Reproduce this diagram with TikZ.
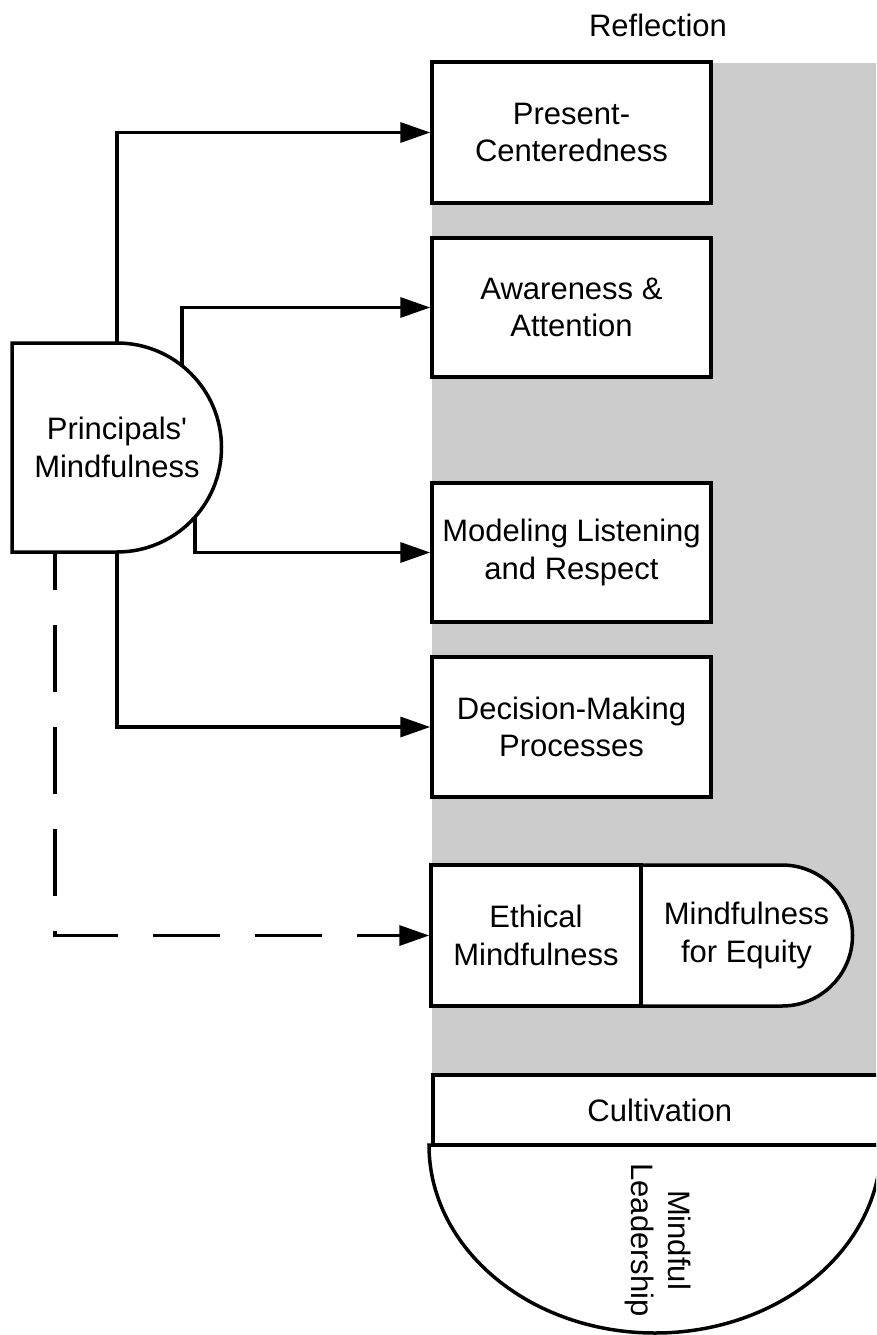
\documentclass[tikz,border=0pt]{standalone}
\usepackage{fontspec}
\setmainfont{Liberation Sans}[Ligatures=TeXOff]
\usetikzlibrary{arrows.meta,calc}
\definecolor{reflgray}{RGB}{204,204,204}
\begin{document}
\begin{tikzpicture}[x=1pt,y=1pt,
  lbl/.style={font=\fontsize{31}{37.5}\selectfont, align=center, text=black},
  box/.style={lbl, draw, line width=3.5pt, fill=white, inner sep=0pt, minimum width=279pt},
  shapeline/.style={draw, line width=3.5pt, fill=white},
  arr/.style={line width=3.5pt, -{Triangle[length=30pt,width=20pt]}},
  dasharr/.style={arr, dash pattern=on 67pt off 35pt, dash phase=30pt},
]
\useasboundingbox (0,0) rectangle (876,-1335);
\clip (0,0) rectangle (876,-1335);

% reflection band
\fill[reflgray] (432,-63) rectangle (876,-1075);
\node[lbl] (refl) at (658,-25) {Reflection};

% right-hand boxes
\node[box, minimum height=141pt] (pc) at (571.5,-132.5) {Present-\\Centeredness};
\node[box, minimum height=139pt] (aa) at (571.5,-307.5) {Awareness \&\\Attention};
\node[box, minimum height=139pt] (ml) at (571.5,-552.5) {Modeling Listening\\and Respect};
\node[box, minimum height=140pt] (dm) at (571.5,-727) {Decision-Making\\Processes};

% ethical / equity
\path[shapeline] (641,-865) -- (782,-865) arc[start angle=90, end angle=-90, radius=70.5] -- (641,-1006) -- cycle;
\node[box, minimum width=210pt, minimum height=141pt] (em) at (536,-935.5) {Ethical\\Mindfulness};
\node[lbl] (eq) at (746.5,-935.5) {Mindfulness\\for Equity};

% principals' mindfulness
\path[shapeline] (117,-343) -- (12,-343) -- (12,-552) -- (117,-552) arc[start angle=-90, end angle=90, radius=104.5] -- cycle;
\node[lbl] (pm) at (117,-447.5) {Principals'\\Mindfulness};

% connector start points on the principals' shape
\coordinate (s1) at (117,-343);
\coordinate (s2) at (182,-365.7);
\coordinate (s3) at (195,-517.5);
\coordinate (s4) at (117,-552);
\coordinate (s5) at (55,-553);

\draw[arr] (s1) |- (pc.west);
\draw[arr] (s2) |- (aa.west);
\draw[arr] (s3) |- (ml.west);
\draw[arr] (s4) |- (dm.west);
\draw[dasharr] (s5) |- (em.west);

% cultivation and mindful leadership
\path[shapeline] (429,-1145) arc[start angle=180, end angle=360, x radius=226, y radius=188] -- cycle;
\node[lbl, draw, line width=3.5pt, fill=white, inner sep=0pt, minimum width=449pt, minimum height=70pt, anchor=west] (cu) at (431,-1110) {\hspace*{5pt}Cultivation};
\node[lbl, rotate=-90] (mlead) at (658,-1240) {Mindful\\Leadership};
\end{tikzpicture}
\end{document}
